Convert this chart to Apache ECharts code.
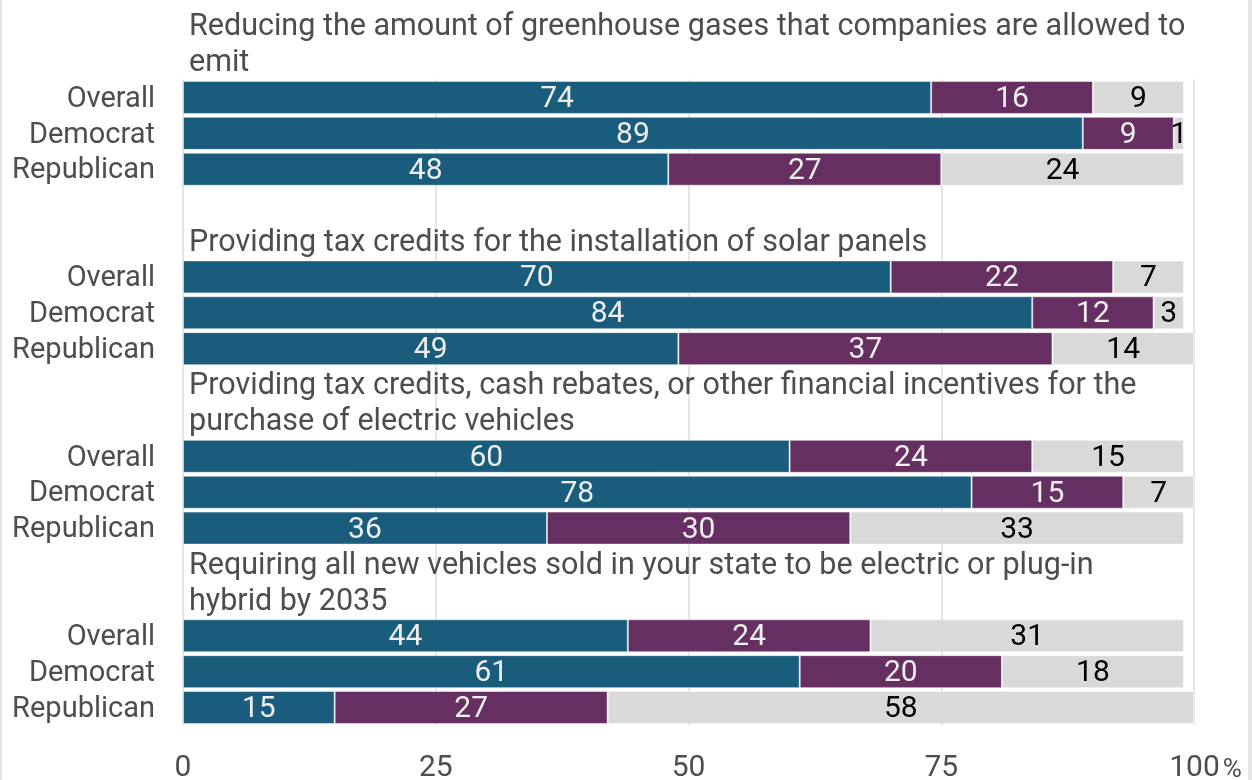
<!DOCTYPE html>
<html>
<head>
<meta charset="utf-8">
<script src="https://cdn.jsdelivr.net/npm/echarts@6/dist/echarts.min.js"></script>
<style>
  html, body { margin: 0; padding: 0; background: #fff; }
  #chart {
    width: 1252px; height: 780px; box-sizing: border-box;
    border-left: 2px solid #e6e6e6; border-right: 4px solid #e6e6e6;
  }
</style>
</head>
<body>
<div id="chart"></div>
<script>
// 数据
var groupTitles = [
  "Reducing the amount of greenhouse gases that companies are allowed to\nemit",
  "Providing tax credits for the installation of solar panels",
  "Providing tax credits, cash rebates, or other financial incentives for the\npurchase of electric vehicles",
  "Requiring all new vehicles sold in your state to be electric or plug-in\nhybrid by 2035"
];
var rowLabels = ["Overall", "Democrat", "Republican"];
var seriesNames = ["Support", "Oppose", "Not sure"];
// 每组: [Overall, Democrat, Republican]
var supportVals = [[74, 89, 48], [70, 84, 49], [60, 78, 36], [44, 61, 15]];
var opposeVals = [[16, 9, 27], [22, 12, 37], [24, 15, 30], [24, 20, 27]];
var notSureVals = [[9, 1, 24], [7, 3, 14], [15, 7, 33], [31, 18, 58]];
var xTicks = [0, 25, 50, 75, 100];

var colors = ["#1a5c7b", "#652f61", "#d9d9d9"];
var labelColors = ["#eeeeee", "#eeeeee", "#000000"];
var gapRows = 2;

// 拼出类目（组间留空行）
var categories = [];
var firstRowIndex = [];
function flatten(groups) {
  var out = [];
  groups.forEach(function (g, gi) {
    if (gi > 0) {
      for (var k = 0; k < gapRows; k++) out.push("-");
    }
    g.forEach(function (v) { out.push(v); });
  });
  return out;
}
groupTitles.forEach(function (t, gi) {
  if (gi > 0) {
    for (var k = 0; k < gapRows; k++) categories.push(" ".repeat(gi * gapRows + k + 1));
  }
  firstRowIndex.push(categories.length);
  rowLabels.forEach(function (r) { categories.push(r + "\u200b".repeat(gi)); });
});

var allVals = [supportVals, opposeVals, notSureVals];
var series = allVals.map(function (vals, si) {
  return {
    name: seriesNames[si],
    type: "bar",
    stack: "total",
    barCategoryGap: "8%",
    data: flatten(vals),
    itemStyle: {
      color: colors[si],
      borderColor: "rgba(255,255,255,0.5)",
      borderWidth: 1
    },
    label: {
      show: true,
      position: "inside",
      offset: [0, 2],
      color: labelColors[si],
      fontFamily: "Roboto",
      fontSize: 30,
      formatter: function (p) { return p.value; }
    },
    silent: true
  };
});

var chart = echarts.init(document.getElementById("chart"));
var option = {
  animation: false,
  grid: {
    left: 181, right: 54, top: 79.5, bottom: 54.5,
    containLabel: false, outerBoundsMode: "none"
  },
  xAxis: {
    type: "value",
    min: 0,
    max: 100,
    interval: 25,
    axisLine: { show: false },
    axisTick: { show: false },
    splitLine: { show: true, lineStyle: { color: "#e6e6e6", width: 2 } },
    axisLabel: {
      margin: 28,
      color: "#4d4d4d",
      fontFamily: "Roboto",
      fontSize: 30,
      formatter: function (v) {
        return v === xTicks[xTicks.length - 1] ? "{p|" + v + "}{b|%}" : "{a|" + v + "}";
      },
      rich: {
        a: { fontFamily: "Roboto", fontSize: 30, color: "#4d4d4d" },
        p: { fontFamily: "Roboto", fontSize: 30, color: "#4d4d4d", padding: [0, 0, 0, 23] },
        b: { fontFamily: "Roboto", fontSize: 26, color: "#4d4d4d", verticalAlign: "bottom", padding: [0, 0, 0, 3] }
      }
    }
  },
  yAxis: {
    type: "category",
    inverse: true,
    data: categories,
    axisLine: { show: false },
    axisTick: { show: false },
    splitLine: { show: false },
    axisLabel: {
      margin: 28,
      color: "#4d4d4d",
      fontFamily: "Roboto",
      fontSize: 29,
      interval: 0,
      formatter: function (v) { return "{t|" + v.replace(/\u200b/g, "").trim() + "}"; },
      rich: {
        t: { fontFamily: "Roboto", fontSize: 29, color: "#4d4d4d", padding: [4, 0, 0, 0] }
      }
    }
  },
  series: series
};
chart.setOption(option);

// 组标题放在每组第一行上方
var graphics = groupTitles.map(function (t, gi) {
  var yFirst = chart.convertToPixel({ yAxisIndex: 0 }, categories[firstRowIndex[gi]]);
  var yNext = chart.convertToPixel({ yAxisIndex: 0 }, categories[firstRowIndex[gi] + 1]);
  var pitch = yNext - yFirst;
  var x0 = chart.convertToPixel({ xAxisIndex: 0 }, 0);
  return {
    type: "text",
    x: x0 + 6,
    y: yFirst - pitch / 2 + 2,
    silent: true,
    style: {
      text: t,
      fontFamily: "Roboto",
      fontSize: 30.5,
      lineHeight: pitch,
      fill: "#4d4d4d",
      align: "left",
      verticalAlign: "bottom"
    }
  };
});
chart.setOption({ graphic: graphics });
</script>
</body>
</html>
